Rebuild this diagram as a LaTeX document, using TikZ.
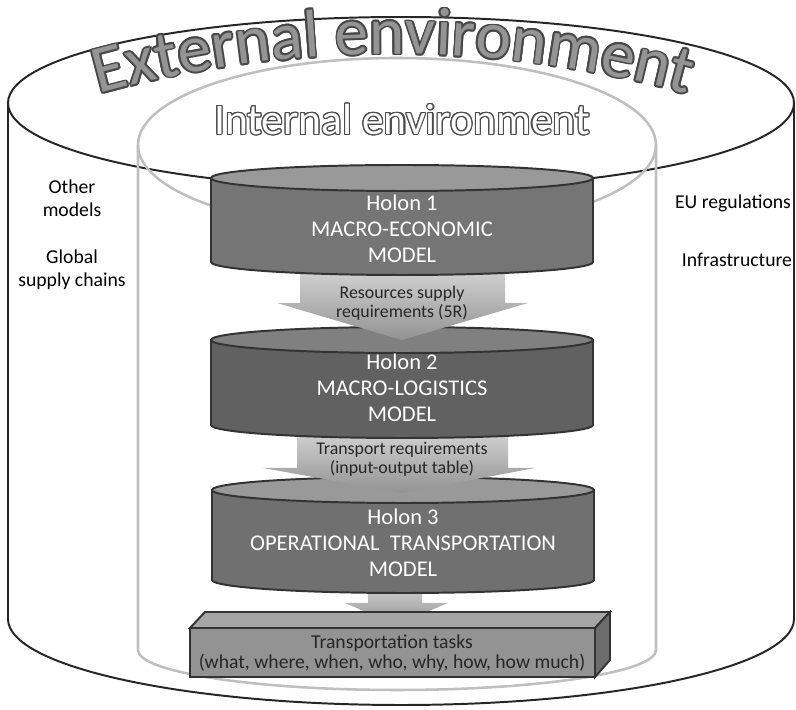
\documentclass[tikz,border=0pt]{standalone}
\usepackage{fontspec}
\setmainfont{Carlito}
\usepackage{contour}
\usetikzlibrary{decorations.text}

\definecolor{outerline}{gray}{0.15}
\definecolor{innerline}{gray}{0.75}
\definecolor{holonline}{gray}{0.2}
\definecolor{holonAbody}{gray}{0.46}
\definecolor{holonAtop}{gray}{0.6}
\definecolor{holonBbody}{gray}{0.38}
\definecolor{holonBtop}{gray}{0.5}
\definecolor{holonCbody}{gray}{0.44}
\definecolor{holonCtop}{gray}{0.6}
\definecolor{extfill}{gray}{0.58}
\definecolor{extline}{gray}{0.28}

\newcommand{\extfont}{\fontsize{48}{52}\selectfont}
\newcommand{\intfont}{\fontsize{31}{34}\selectfont}
\contourlength{0.8pt}

% one holon cylinder: centre x, top y, bottom y, body colour, top colour
\newcommand{\holon}[5]{%
  \filldraw[holonedge, fill=#4] (#1-191,#2) -- (#1-191,#3)
    arc[start angle=180, end angle=360, x radius=191, y radius=13] -- (#1+191,#2) -- cycle;
  \filldraw[holonedge, fill=#5] (#1,#2) ellipse [x radius=191, y radius=13];
}

\begin{document}
\begin{tikzpicture}[x=0.025cm, y=0.025cm,
  holonedge/.style={draw=holonline, line width=1.4pt},
  holontext/.style={text=white, align=center, font=\fontsize{16}{18.5}\selectfont},
  arrowtext/.style={text=black!85, align=center, font=\fontsize{12.7}{13.5}\selectfont},
  sidetext/.style={align=center, font=\fontsize{14}{16.5}\selectfont},
  tasktext/.style={text=black!85, align=center, font=\fontsize{14}{14.5}\selectfont},
  blockarrow/.style={top color=gray!30, bottom color=gray!85}]

\useasboundingbox (0,0) rectangle (796,710);

% external and internal environment
\draw[outerline, line width=1.4pt] (401,607) ellipse [x radius=393, y radius=86];
\draw[outerline, line width=1.4pt] (8,607) -- (8,91)
  arc[start angle=180, end angle=360, x radius=393, y radius=86] -- (794,607);
\draw[innerline, line width=1.8pt] (397,565) ellipse [x radius=259, y radius=87];
\draw[innerline, line width=1.8pt] (138,565) -- (138,60)
  arc[start angle=180, end angle=360, x radius=259, y radius=40] -- (656,565);

% arched title
\foreach \a in {0,30,...,330}
  \path[shift={(\a:1.8)}, decorate, decoration={text along path, text align=center,
      text color=extline, text={|\extfont|External environment}}]
    (393,-444) ++(120:1100) arc[start angle=120, end angle=60, radius=1100];
\path[decorate, decoration={text along path, text align=center,
    text color=extfill, text={|\extfont|External environment}}]
  (393,-444) ++(120:1100) arc[start angle=120, end angle=60, radius=1100];

\node[text=white, font=\intfont] (internal) at (402,590) {\contour{black!70}{Internal environment}};

\node[sidetext] (othermodels) at (72,512) {Other\\models};
\node[sidetext] (globalchains) at (72,440) {Global\\supply chains};
\node[sidetext] (euregs) at (733,507) {EU regulations};
\node[sidetext] (infra) at (737,450) {Infrastructure};

% arrow to the tasks and the tasks box
\shade[blockarrow] (368,130) -- (368,107) -- (345,107) -- (396,85) -- (448,107) -- (422,107) -- (422,130) -- cycle;
\filldraw[holonedge, fill=gray!70] (190,82) -- (205,98) -- (610,98) -- (595,82) -- cycle;
\filldraw[holonedge, fill=gray!115] (595,82) -- (610,98) -- (610,50) -- (595,33) -- cycle;
\filldraw[holonedge, fill=gray!85] (190,82) rectangle (595,33);
\node[tasktext] (tasks) at (392,57) {Transportation tasks\\(what, where, when, who, why, how, how much)};

% holon 3
\holon{403}{220}{130}{holonCbody}{holonCtop}
\node[holontext] (holon3) at (403,167) {Holon 3\\OPERATIONAL\ \ TRANSPORTATION\\MODEL};

% arrow holon 2 -> holon 3
\shade[blockarrow] (297,285) -- (297,242) -- (263,242) -- (402,217) -- (535,242) -- (508,242) -- (508,285) -- cycle;
\node[arrowtext] (transreq) at (402,251) {Transport requirements\\(input-output table)};

% holon 2
\holon{402}{370}{285}{holonBbody}{holonBtop}
\node[holontext] (holon2) at (402,322) {Holon 2\\MACRO-LOGISTICS\\MODEL};

% arrow holon 1 -> holon 2
\shade[blockarrow] (300,448) -- (300,407) -- (277,407) -- (402,370) -- (528,407) -- (505,407) -- (505,448) -- cycle;
\node[arrowtext] (resreq) at (402,407) {Resources supply\\requirements (5R)};

% holon 1
\holon{402}{532}{448}{holonAbody}{holonAtop}
\node[holontext] (holon1) at (402,481) {Holon 1\\MACRO-ECONOMIC\\MODEL};

\end{tikzpicture}
\end{document}
